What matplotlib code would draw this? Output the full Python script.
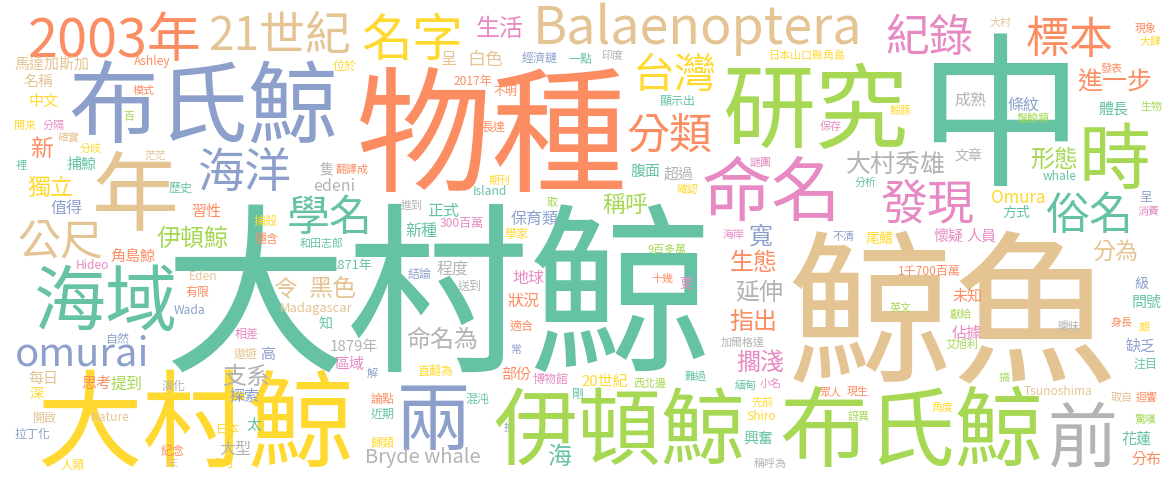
import matplotlib
matplotlib.use("Agg")
import matplotlib.pyplot as plt

plt.rcParams['font.family'] = ['Noto Sans CJK TC', 'DejaVu Sans']

PALETTE = {'t': '#66c2a5', 'o': '#fc8d62', 'b': '#8da0cb', 'p': '#e78ac3',
           'l': '#a6d854', 'y': '#ffd92f', 'n': '#e5c494', 'g': '#b3b3b3'}

words = [
    "大村鯨", "鯨魚", "中", "物種", "布氏鯨", "2003年", "21世紀", "名字", "生活", "Balaenoptera",
    "呈", "白色", "經濟鏈", "一點", "位於", "2017年", "不明", "長達", "隻", "翻譯成",
    "edeni", "期刊", "Island", "取", "學名", "進到", "正式", "300百萬", "保育類", "新種",
    "學家", "和田志郎", "1871年", "程度", "結論", "地球", "送到", "令", "黑色", "狀況",
    "Madagascar", "知", "適合", "命名為", "1879年", "常", "區域", "直翻為", "部份", "解",
    "博物館", "20世紀", "論點", "混沌", "剛", "近期", "換", "歸類", "兩", "Bryde whale",
    "海", "伊頓鯨", "布氏鯨", "前", "大村鯨", "海域", "omurai", "年", "海洋", "公尺",
    "獨立", "值得", "伊頓鯨", "習性", "歷史", "捕殺", "隱含", "角島鯨", "Hideo", "Eden",
    "有限", "Wada", "相差", "遨遊", "高", "自然", "支系", "探索", "演化", "每日",
    "深", "思考", "提到", "開啟", "Nature", "日本", "太", "拉丁化", "大型", "紀念",
    "末", "5月", "人類", "馬達加斯加", "Ashley", "名稱", "模式", "中文", "百", "開來",
    "分隔", "確實", "新", "分歧", "茫茫", "捕鯨", "裡", "印度", "日本山口縣角島", "台灣",
    "顯示出", "分類", "研究", "保存", "謎團", "命名", "腹面", "超過", "大村秀雄", "分析",
    "確認", "稱呼", "寬", "海岸", "不清", "尾鰭", "9百多萬", "生態", "十幾", "更",
    "延伸", "指出", "加爾格達", "擱淺", "難過", "西北邊", "緬甸", "小名", "眾人", "現生",
    "先前", "Shiro", "訝異", "興奮", "稱呼為", "紀錄", "大村", "標本", "現象", "大肆",
    "發表", "進一步", "成熟", "條紋", "鬚鯨類", "鯨豚", "體長", "生物", "時", "形態",
    "文章", "whale", "發現", "Omura", "方式", "俗名", "呈", "消費", "懷疑", "人員",
    "分為", "1千700百萬", "級", "未知", "問號", "英文", "獻給", "身長", "頗", "曖昧",
    "佔據", "艾旭利", "缺乏", "注目", "搞", "Tsunoshima", "取自", "迴響", "角度", "驚嘆",
    "花蓮", "分布",
]

# relative word weight (rendered em size in pixels)
weights = [
    183, 165, 166, 136, 90, 54, 46, 51, 24, 52,
    16, 18, 12, 12, 12, 12, 12, 12, 14, 11,
    16, 11, 12, 11, 43, 11, 16, 12, 16, 16,
    12, 11, 13, 16, 12, 16, 12, 24, 24, 16,
    13, 14, 12, 24, 15, 11, 15, 12, 15, 11,
    12, 15, 12, 12, 12, 12, 11, 12, 75, 20,
    24, 84, 88, 70, 106, 72, 40, 87, 47, 43,
    23, 16, 24, 15, 12, 12, 12, 15, 12, 12,
    12, 12, 12, 12, 15, 12, 24, 15, 12, 15,
    14, 15, 16, 12, 12, 12, 15, 12, 16, 12,
    12, 13, 12, 15, 12, 15, 11, 15, 11, 11,
    11, 11, 23, 11, 11, 15, 11, 11, 11, 42,
    12, 43, 93, 11, 11, 70, 15, 15, 25, 11,
    11, 23, 24, 11, 11, 14, 11, 24, 11, 14,
    24, 24, 11, 24, 11, 11, 11, 11, 11, 11,
    11, 12, 11, 15, 11, 44, 11, 44, 11, 11,
    11, 25, 16, 16, 11, 11, 15, 11, 72, 24,
    14, 12, 47, 17, 14, 44, 13, 11, 15, 15,
    23, 12, 14, 15, 15, 11, 11, 11, 11, 11,
    15, 11, 15, 12, 11, 12, 11, 11, 11, 11,
    15, 15,
]

color_keys = [
    't', 'n', 't', 'o', 'b', 'o', 'n', 'y', 'p', 'n',
    'n', 'n', 'b', 't', 'y', 'o', 'o', 'o', 'g', 'o',
    'g', 'y', 't', 'l', 't', 'g', 't', 'p', 'b', 't',
    'y', 't', 't', 'g', 'b', 'p', 'g', 'n', 'n', 'o',
    'n', 't', 'o', 'g', 'g', 'b', 'p', 'y', 'o', 'b',
    'p', 'y', 'o', 't', 't', 't', 'b', 'y', 'b', 'g',
    't', 'l', 'l', 'g', 'y', 't', 'b', 'n', 'b', 'n',
    'y', 'b', 'l', 'o', 't', 'y', 'o', 'o', 'p', 'n',
    'o', 'b', 'p', 'n', 'b', 'b', 'g', 'b', 'g', 'n',
    'y', 'o', 'l', 'n', 'n', 'y', 't', 'b', 'g', 'o',
    'n', 'y', 'y', 'n', 'o', 'n', 'o', 'y', 'l', 'y',
    'p', 'n', 'o', 'y', 'n', 't', 't', 'g', 'y', 'y',
    't', 'o', 'l', 'p', 'p', 'p', 't', 'g', 'g', 't',
    'y', 'l', 'b', 'p', 'b', 'y', 'l', 'o', 'o', 'p',
    'g', 'o', 'g', 'p', 't', 'l', 't', 'p', 'o', 'o',
    'y', 'y', 'l', 't', 'g', 'p', 'n', 'o', 'o', 'y',
    'o', 'o', 'g', 'b', 'l', 'y', 't', 'l', 'l', 'l',
    'g', 't', 'p', 'y', 't', 't', 'b', 'p', 'p', 'p',
    'n', 'o', 'b', 'o', 't', 'l', 'l', 'o', 'y', 'g',
    'p', 'l', 'b', 't', 'l', 'n', 'n', 'o', 'y', 'l',
    't', 'o',
]

# layout (word-cloud placement, pixel centres of the ink)
layout_x = [
    438, 952, 1000, 491, 203, 115, 280, 412, 500, 697,
    448, 485, 540, 580, 345, 473, 505, 493, 327, 352,
    334, 500, 490, 552, 330, 412, 443, 462, 535, 421,
    516, 322, 352, 453, 420, 528, 470, 285, 333, 523,
    316, 326, 522, 442, 354, 516, 349, 435, 516, 372,
    551, 605, 383, 477, 578, 383, 509, 383, 433, 423,
    560, 619, 911, 1083, 195, 106, 82, 135, 244, 60,
    50, 67, 193, 206, 181, 266, 266, 133, 92, 203,
    197, 190, 247, 246, 268, 117, 246, 244, 174, 43,
    37, 96, 127, 45, 110, 228, 254, 33, 235, 172,
    172, 225, 72, 52, 152, 38, 144, 43, 129, 25,
    54, 69, 42, 91, 156, 82, 21, 612, 807, 675,
    678, 670, 815, 831, 761, 772, 646, 679, 896, 866,
    688, 625, 761, 734, 844, 880, 667, 754, 662, 686,
    759, 753, 743, 760, 696, 650, 746, 771, 831, 858,
    763, 761, 859, 758, 770, 929, 1000, 1070, 1146, 1151,
    1112, 1115, 970, 1023, 1033, 901, 1113, 1151, 1115, 1054,
    968, 1060, 928, 1018, 1016, 1090, 1146, 1149, 949, 981,
    1115, 929, 1141, 967, 1147, 901, 961, 1122, 1144, 1068,
    967, 962, 1141, 1145, 1004, 1058, 1122, 1147, 943, 1146,
    1136, 1146,
]

layout_y = [
    288, 308, 110, 129, 102, 36, 33, 37, 27, 30,
    58, 58, 57, 58, 65, 80, 90, 126, 168, 169,
    187, 180, 192, 202, 215, 205, 210, 222, 218, 230,
    233, 243, 264, 268, 273, 277, 285, 287, 287, 300,
    308, 323, 325, 338, 345, 349, 363, 370, 373, 373,
    378, 380, 398, 398, 393, 413, 427, 442, 416, 458,
    455, 427, 427, 434, 418, 298, 355, 191, 170, 238,
    186, 207, 237, 210, 187, 220, 238, 255, 266, 277,
    291, 311, 333, 353, 353, 338, 375, 395, 385, 377,
    393, 382, 383, 417, 418, 428, 423, 433, 448, 450,
    462, 462, 464, 63, 62, 80, 90, 100, 116, 125,
    125, 137, 147, 148, 155, 163, 165, 55, 55, 72,
    100, 132, 106, 126, 162, 188, 170, 173, 162, 182,
    189, 203, 235, 234, 236, 237, 249, 261, 278, 283,
    291, 320, 342, 361, 376, 383, 385, 383, 392, 391,
    402, 417, 416, 438, 463, 34, 22, 36, 28, 41,
    68, 80, 98, 103, 118, 110, 108, 106, 156, 158,
    154, 177, 202, 198, 212, 212, 195, 211, 235, 235,
    250, 270, 282, 295, 301, 307, 314, 322, 326, 326,
    332, 344, 345, 363, 377, 392, 397, 397, 407, 419,
    438, 458,
]

assert len(words) == len(weights) == len(color_keys) == len(layout_x) == len(layout_y)

W, H, DPI = 1175, 482, 100
fig = plt.figure(figsize=(W / DPI, H / DPI), dpi=DPI, facecolor='white')
ax = fig.add_axes([0, 0, 1, 1])
ax.set_xlim(0, W)
ax.set_ylim(H, 0)
ax.axis('off')


def ink_centre_above_baseline(word):
    # ideographs sit higher on the baseline than Latin letters
    return 0.38 if any(ord(ch) > 0x2E80 for ch in word) else 0.27


for w, s, c, x, y in zip(words, weights, color_keys, layout_x, layout_y):
    ax.text(x, y + ink_centre_above_baseline(w) * s, w,
            fontsize=s * 72 / DPI, color=PALETTE[c], fontweight='medium',
            ha='center', va='baseline')

fig.savefig('out.png', dpi=DPI, facecolor='white')
